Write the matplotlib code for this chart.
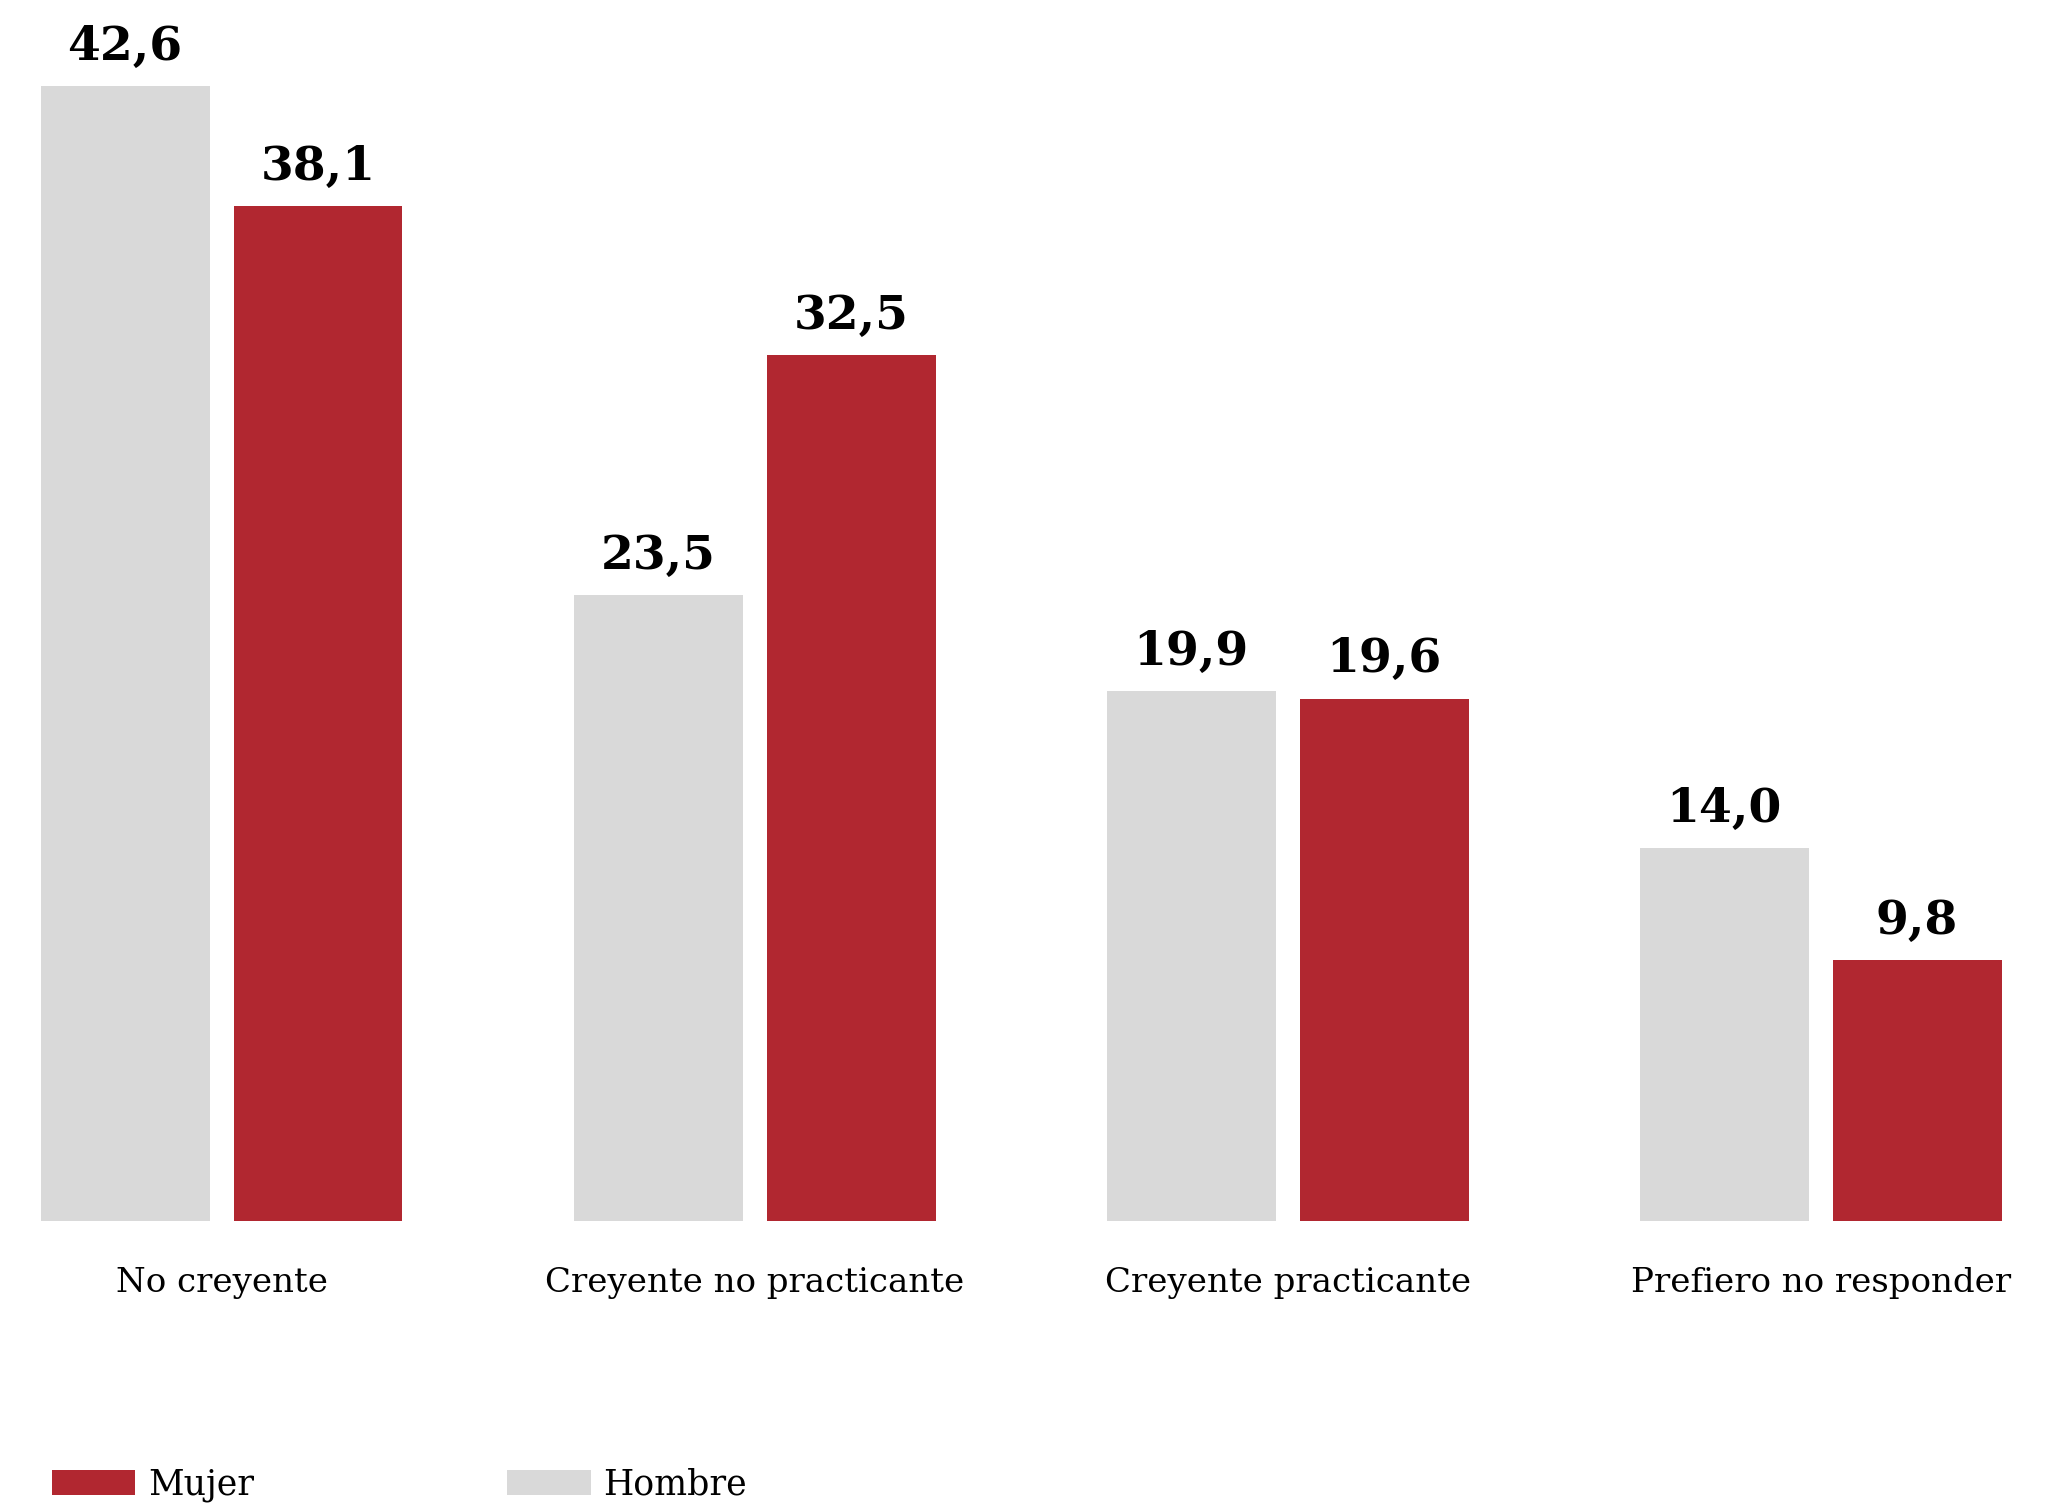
import matplotlib.pyplot as plt
import numpy as np

# Data
categorias = ["No creyente", "Creyente no practicante", "Creyente practicante", "Prefiero no responder"]
hombre = [42.6, 23.5, 19.9, 14.0]
mujer = [38.1, 32.5, 19.6, 9.8]

GRIS = "#D9D9D9"
ROJO = "#B12730"
SERIF = ["DejaVu Serif"]

W, H = 2069, 1503
fig = plt.figure(figsize=(W / 100, H / 100), dpi=100)
ax = fig.add_axes([0, 282 / H, 1, 1 - 282 / H])

x = np.arange(len(categorias))
ancho = 0.317
desp = 0.181
b1 = ax.bar(x - desp, hombre, ancho, color=GRIS, label="Hombre")
b2 = ax.bar(x + desp, mujer, ancho, color=ROJO, label="Mujer")

ax.set_xlim(-0.4156, 3.466)
ax.set_ylim(0, (H - 282) / 26.64)

# Value labels
for barras in (b1, b2):
    for r in barras:
        ax.annotate(f"{r.get_height():.1f}".replace(".", ","),
                    (r.get_x() + r.get_width() / 2, r.get_height()),
                    xytext=(0, 19), textcoords="offset points",
                    ha="center", va="baseline", fontsize=34,
                    fontweight="bold", family=SERIF, color="black")

ax.set_xticks(x)
ax.set_xticklabels(categorias, family=SERIF, fontsize=24.5)
ax.tick_params(axis="x", length=0, pad=33)
ax.set_yticks([])
for s in ax.spines.values():
    s.set_visible(False)

# Legend (Mujer first, as in the original)
leg = fig.legend(handles=[b2, b1], labels=["Mujer", "Hombre"], ncol=2,
                 loc="lower left", bbox_to_anchor=(52 / W, 1 / H),
                 frameon=False, borderpad=0, borderaxespad=0,
                 handlelength=2.4, handleheight=0.7, handletextpad=0.36,
                 columnspacing=7.3, prop={"family": SERIF, "size": 25})

fig.savefig("out.png", dpi=100)
